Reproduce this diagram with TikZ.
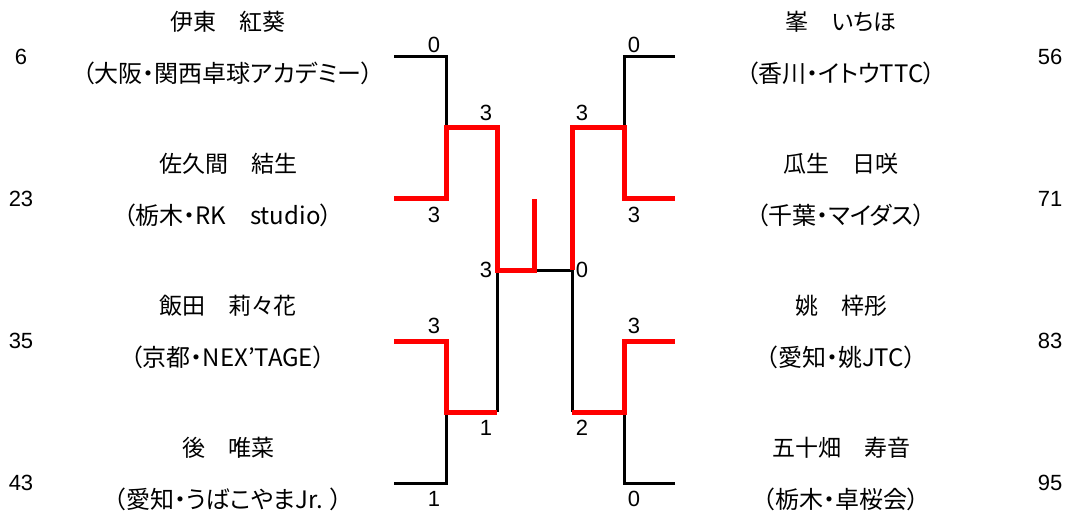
\documentclass[tikz,border=0pt]{standalone}
\usepackage{fontspec}
\setmainfont[RawFeature=+palt]{Noto Sans CJK JP}
\newfontfamily\numfont{Liberation Sans}
\usetikzlibrary{positioning}

\tikzstyle{player} = [inner sep=0pt, font=\fontsize{23}{27}\selectfont]
\tikzstyle{club} = [inner sep=0pt, font=\fontsize{24}{28}\selectfont, on grid, below=51pt of #1]
\tikzstyle{seed} = [inner sep=0pt, font=\numfont\fontsize{22}{26}\selectfont]
\tikzstyle{score} = [seed]
\tikzstyle{lose} = [line width=3pt, black]
\tikzstyle{win} = [line width=5pt, red]

\begin{document}
\begin{tikzpicture}[x=1pt, y=-1pt]
\useasboundingbox (0,0) rectangle (1069,511);
%begin players-left
\node[seed] (n6) at (21,57) {6};
\node[player] (p6) at (228,22) {伊東　紅葵};
\node[club=p6] (c6) {（大阪・関西卓球アカデミー）};
\node[seed] (n23) at (21,199) {23};
\node[player] (p23) at (228,164) {佐久間　結生};
\node[club=p23] (c23) {（栃木・RK　studio）};
\node[seed] (n35) at (21,341) {35};
\node[player] (p35) at (228,306) {飯田　莉々花};
\node[club=p35] (c35) {（京都・NEX’TAGE）};
\node[seed] (n43) at (21,483) {43};
\node[player] (p43) at (228,448) {後　唯菜};
\node[club=p43] (c43) {（愛知・うばこやまJr. ）};
%end players-left
%begin players-right
\node[seed] (n56) at (1050,57) {56};
\node[player] (p56) at (841,22) {峯　いちほ};
\node[club=p56] (c56) {（香川・イトウTTC）};
\node[seed] (n71) at (1050,199) {71};
\node[player] (p71) at (841,164) {瓜生　日咲};
\node[club=p71] (c71) {（千葉・マイダス）};
\node[seed] (n83) at (1050,341) {83};
\node[player] (p83) at (841,306) {姚　梓彤};
\node[club=p83] (c83) {（愛知・姚JTC）};
\node[seed] (n95) at (1050,483) {95};
\node[player] (p95) at (841,448) {五十畑　寿音};
\node[club=p95] (c95) {（栃木・卓桜会）};
%end players-right
%begin bracket-left
\coordinate (l1) at (394,57);
\coordinate (l2) at (394,198);
\coordinate (l3) at (394,341);
\coordinate (l4) at (394,483);
\coordinate (la1) at (446,57);
\coordinate (la2) at (446,198);
\coordinate (la3) at (446,341);
\coordinate (la4) at (446,483);
\coordinate (lm1) at (446,127);
\coordinate (lm2) at (446,412);
\coordinate (lb1) at (497,127);
\coordinate (lb2) at (497,412);
\coordinate (lf) at (497,270);
%end bracket-left
%begin bracket-centre
\coordinate (mid) at (534,270);
\coordinate (top) at (534,199);
%end bracket-centre
%begin bracket-right
\coordinate (r1) at (675,57);
\coordinate (r2) at (675,198);
\coordinate (r3) at (675,341);
\coordinate (r4) at (675,483);
\coordinate (ra1) at (624,57);
\coordinate (ra2) at (624,198);
\coordinate (ra3) at (624,341);
\coordinate (ra4) at (624,483);
\coordinate (rm1) at (624,127);
\coordinate (rm2) at (624,412);
\coordinate (rb1) at (572,127);
\coordinate (rb2) at (572,412);
\coordinate (rf) at (572,270);
%end bracket-right
%lost lines
\draw[lose] (l1) -- (la1) -- (lm1);
\draw[lose] (l4) -- (la4) -- (lm2);
\draw[lose] (lb2) -- (lf);
\draw[lose] (mid) -- (rf) -- (rb2);
\draw[lose] (r1) -- (ra1) -- (rm1);
\draw[lose] (r4) -- (ra4) -- (rm2);
%won lines
\draw[win] (l2) -- (la2) -- (lm1) -- (lb1) -- (lf) -- (mid) -- (top);
\draw[win] (l3) -- (la3) -- (lm2) -- (lb2);
\draw[win] (rf) -- (rb1) -- (rm1) -- (ra2) -- (r2);
\draw[win] (rb2) -- (rm2) -- (ra3) -- (r3);
%begin scores
\node[score] (s6) at (434,45) {0};
\node[score] (s23) at (434,215) {3};
\node[score] (s35) at (434,326) {3};
\node[score] (s43) at (434,499) {1};
\node[score] (sl1) at (486,113) {3};
\node[score] (sl2) at (486,428) {1};
\node[score] (slf) at (486,270) {3};
\node[score] (srf) at (582,270) {0};
\node[score] (sr1) at (582,113) {3};
\node[score] (sr2) at (582,428) {2};
\node[score] (s56) at (634,45) {0};
\node[score] (s71) at (634,215) {3};
\node[score] (s83) at (634,326) {3};
\node[score] (s95) at (634,499) {0};
%end scores
\end{tikzpicture}
\end{document}
